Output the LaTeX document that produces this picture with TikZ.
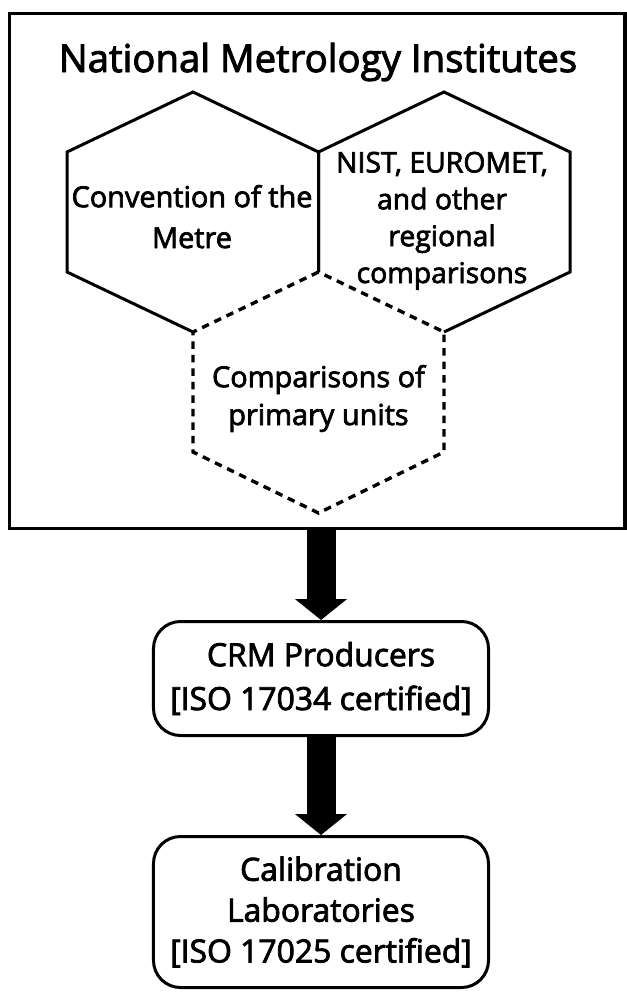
\documentclass[tikz,border=0pt]{standalone}
\usepackage{fontspec}
\setmainfont{Open Sans}[FakeBold=2.5]
\usetikzlibrary{arrows.meta}
\begin{document}
\begin{tikzpicture}[x=1bp,y=-1bp,
  solidline/.style={line width=3bp, line join=miter},
  dashline/.style={line width=3.4bp, dash pattern=on 7.5bp off 6bp},
  hexlbl/.style={align=center, inner sep=0pt, anchor=base},
  boxnode/.style={draw, line width=3bp, rounded corners=27bp, minimum width=335bp, inner sep=0pt, align=center},
  outerbox/.style={draw, line width=3.2bp, minimum width=615.5bp, minimum height=515bp, inner sep=0pt},
  bigarrow/.style={line width=29bp, -{Triangle[width=51bp,length=21bp]}}
]
\useasboundingbox (0,0) rectangle (627,992);

% outer frame
\node[outerbox] (nmi) at (317.25,271) {};
\node[inner sep=0pt, anchor=base, font=\fontsize{38.5}{44}\selectfont] (title) at (318,72) {National Metrology Institutes};

% hexagon vertices
\coordinate (LT) at (193,92);
\coordinate (LUL) at (67,152);
\coordinate (LLL) at (67,272);
\coordinate (LB) at (193,332);
\coordinate (MT) at (318.5,152);
\coordinate (MB) at (318.5,272);
\coordinate (RT) at (444,92);
\coordinate (RUR) at (570,152);
\coordinate (RLR) at (570,272);
\coordinate (RB) at (444,332);
\coordinate (DLL) at (193,452);
\coordinate (DB) at (318.5,513);
\coordinate (DLR) at (444,452);

% left hexagon (solid part)
\draw[solidline] (LB) -- (LLL) -- (LUL) -- (LT) -- (MT) -- (MB);
% right hexagon (solid part)
\draw[solidline] (MB) -- (MT) -- (RT) -- (RUR) -- (RLR) -- (RB);
% dashed hexagon
\draw[dashline] (MB) -- (LB) -- (DLL) -- (DB) -- (DLR) -- (RB) -- cycle;

% hexagon labels
\node[hexlbl, font=\fontsize{29}{41}\selectfont] (cm) at (192,248) {Convention of the\\Metre};
\node[hexlbl, font=\fontsize{28.5}{37}\selectfont] (nist) at (442,283) {NIST, EUROMET,\\and other\\regional\\comparisons};
\node[hexlbl, font=\fontsize{29}{38}\selectfont] (cpu) at (318.5,425) {Comparisons of\\primary units};

% lower boxes
\node[boxnode, minimum height=114bp, font=\fontsize{32}{44}\selectfont] (crm) at (321,678.5) {CRM Producers\\{[}ISO 17034 certified{]}};
\node[boxnode, minimum height=151bp, font=\fontsize{32}{41}\selectfont] (cal) at (321,912) {Calibration\\Laboratories\\{[}ISO 17025 certified{]}};

% arrows
\draw[bigarrow] (crm.north |- nmi.south) -- (crm.north);
\draw[bigarrow] (crm.south) -- (cal.north);
\end{tikzpicture}
\end{document}
